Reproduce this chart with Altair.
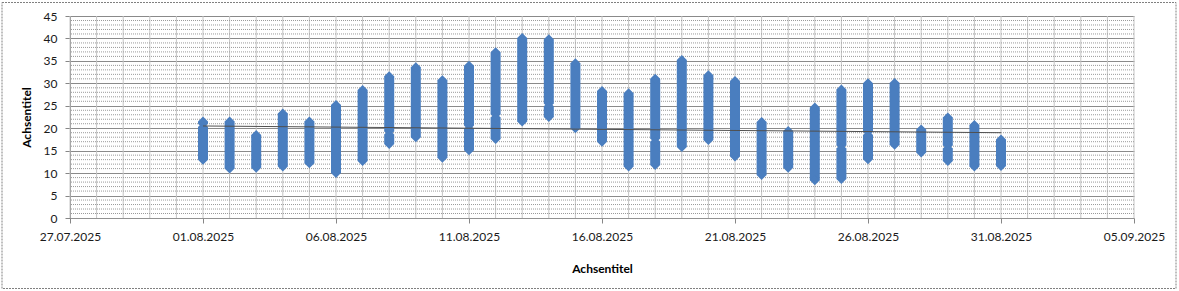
import altair as alt
import pandas as pd

# ---- data ----
# Each day's readings form a solid column of diamonds; columns are described by
# segments (low/high ends); a day with a visible pinch has two segments.
seg_dates = ["2025-08-01", "2025-08-01", "2025-08-02", "2025-08-03", "2025-08-04",
             "2025-08-05", "2025-08-06", "2025-08-07", "2025-08-08", "2025-08-08",
             "2025-08-09", "2025-08-10", "2025-08-11", "2025-08-11", "2025-08-12",
             "2025-08-12", "2025-08-13", "2025-08-14", "2025-08-14", "2025-08-15",
             "2025-08-16", "2025-08-17", "2025-08-18", "2025-08-18", "2025-08-19",
             "2025-08-20", "2025-08-21", "2025-08-22", "2025-08-23", "2025-08-24",
             "2025-08-25", "2025-08-25", "2025-08-26", "2025-08-26", "2025-08-27",
             "2025-08-28", "2025-08-29", "2025-08-29", "2025-08-30", "2025-08-31"]
seg_low = [13.0, 21.0, 11.0, 11.2, 11.5,
           12.2, 10.0, 12.7, 16.5, 19.3,
           18.0, 13.4, 15.1, 20.6, 17.6,
           23.1, 21.5, 22.5, 25.5, 20.0,
           17.0, 11.5, 11.8, 17.7, 15.8,
           17.4, 13.7, 9.6, 11.2, 8.4,
           8.7, 16.2, 13.1, 19.2, 16.3,
           14.6, 12.7, 16.2, 11.5, 11.6]
seg_high = [20.3, 21.5, 21.5, 18.5, 23.3,
            21.5, 25.2, 28.5, 18.6, 31.6,
            33.6, 30.7, 19.9, 33.9, 22.4,
            36.9, 40.1, 24.9, 39.8, 34.5,
            28.3, 27.8, 17.0, 31.0, 35.2,
            31.8, 30.5, 21.4, 19.4, 24.6,
            15.5, 28.6, 18.5, 30.0, 30.1,
            19.7, 15.5, 22.4, 20.7, 17.5]

# linear trend line (as drawn in the reference)
trend_dates = ["2025-08-01", "2025-08-31"]
trend_values = [20.5, 19.0]

# axis ticks
x_tick_dates = ["2025-07-27", "2025-08-01", "2025-08-06", "2025-08-11", "2025-08-16",
                "2025-08-21", "2025-08-26", "2025-08-31", "2025-09-05"]
y_major = [0, 5, 10, 15, 20, 25, 30, 35, 40, 45]
y_minor = [v for v in range(0, 46) if v % 5 != 0]
grid_days = [d.strftime("%Y-%m-%d") for d in pd.date_range("2025-07-27", "2025-09-05", freq="D")]

# ---- tables ----
seg_df = pd.DataFrame({"date": seg_dates, "low": seg_low, "high": seg_high})
ends_df = pd.DataFrame({
    "date": seg_dates + seg_dates,
    "temp": seg_low + seg_high,
})
trend_df = pd.DataFrame({"date": trend_dates, "temp": trend_values})
vgrid_df = pd.DataFrame({"date": grid_days})
hgrid_df = pd.DataFrame({"temp": y_minor})

FONT = "Lato"
W, H = 1064, 202
BLUE = "#4A7EBF"
COL_W = 10


def dt(s):
    y, m, d = [int(p) for p in s.split("-")]
    return alt.DateTime(year=y, month=m, date=d, utc=True)


x_scale = alt.Scale(type="utc", domain=[dt("2025-07-27"), dt("2025-09-05")])
y_scale = alt.Scale(domain=[0, 45], nice=False)

x_axis = alt.Axis(
    values=[dt(s) for s in x_tick_dates],
    labelExpr="utcFormat(datum.value, '%d.%m.%Y')",
    labelFlush=False,
    labelOverlap=False,
    grid=False,
    tickSize=5,
    tickColor="#868686",
    domainColor="#9a9a9a",
    domainDash=[1, 1],
    labelPadding=8,
    labelFont=FONT,
    labelFontSize=12,
    labelColor="#1a1a1a",
    title="Achsentitel",
    titleFont=FONT,
    titleFontSize=12,
    titleFontWeight="bold",
    titleColor="#000000",
    titleY=45,
    titleX=532,
)
y_axis = alt.Axis(
    values=y_major,
    labelFlush=False,
    grid=True,
    gridColor="#8a8a8a",
    gridWidth=1,
    tickSize=5,
    tickColor="#868686",
    domainColor="#868686",
    labelPadding=8,
    labelFont=FONT,
    labelFontSize=12,
    labelColor="#1a1a1a",
    title="Achsentitel",
    titleFont=FONT,
    titleFontSize=12,
    titleFontWeight="bold",
    titleColor="#000000",
    titleX=-37,
    titleY=101,
)

X = alt.X("date:T", scale=x_scale, axis=x_axis)

vgrid = alt.Chart(vgrid_df).mark_rule(color="#c4c4c4", strokeWidth=1).encode(x=X)

hgrid = alt.Chart(hgrid_df).mark_rule(color="#9a9a9a", strokeWidth=1, strokeDash=[1, 1]).encode(
    y=alt.Y("temp:Q", scale=y_scale, axis=y_axis)
)

bodies = alt.Chart(seg_df).mark_rule(color=BLUE, strokeWidth=COL_W, strokeCap="butt").encode(
    x=X,
    y=alt.Y("low:Q", scale=y_scale, axis=y_axis),
    y2="high:Q",
)

caps = alt.Chart(ends_df).mark_point(
    shape="diamond", filled=True, size=COL_W * COL_W, color=BLUE, opacity=1
).encode(
    x=X,
    y=alt.Y("temp:Q", scale=y_scale, axis=y_axis),
)

trend = alt.Chart(trend_df).mark_line(color="#505050", strokeWidth=1).encode(
    x=X,
    y=alt.Y("temp:Q", scale=y_scale, axis=y_axis),
)

frame = alt.Chart(alt.Data(values=[{"a": 1}])).mark_rect(
    fillOpacity=0, stroke="#808080", strokeWidth=1, strokeDash=[2, 1]
).encode(
    x=alt.value(-68), x2=alt.value(1106), y=alt.value(-13.5), y2=alt.value(272.5)
)

chart = alt.layer(vgrid, hgrid, bodies, caps, trend, frame).properties(
    width=W,
    height=H,
    autosize=alt.AutoSizeParams(type="none"),
    padding={"left": 70, "top": 16, "right": 45, "bottom": 73},
    background="white",
).configure_view(stroke=None)

chart.save("out.html", embed_options={"renderer": "svg", "actions": False})
